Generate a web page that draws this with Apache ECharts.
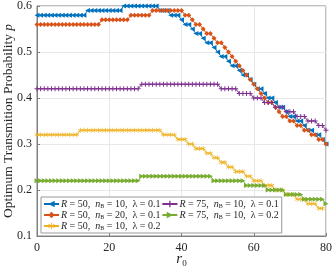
<!DOCTYPE html>
<html><head><meta charset="utf-8">
<script src="https://cdn.jsdelivr.net/npm/echarts@6/dist/echarts.min.js"></script>
<style>html,body{margin:0;padding:0;background:#fff}#c{width:332px;height:271px}</style>
</head><body><div id="c"></div>
<script>
const r0 = [0,1,2,3,4,5,6,7,8,9,10,11,12,13,14,15,16,17,18,19,20,21,22,23,24,25,26,27,28,29,30,31,32,33,34,35,36,37,38,39,40,41,42,43,44,45,46,47,48,49,50,51,52,53,54,55,56,57,58,59,60,61,62,63,64,65,66,67,68,69,70,71,72,73,74,75,76,77,78,79,80];
const xTicks = [0,20,40,60,80];
const yTicks = [0.1,0.2,0.3,0.4,0.5,0.6];
const pBlue = [0.58,0.58,0.58,0.58,0.58,0.58,0.58,0.58,0.58,0.58,0.58,0.58,0.58,0.58,
 0.59,0.59,0.59,0.59,0.59,0.59,0.59,0.59,0.59,0.59,
 0.60,0.60,0.60,0.60,0.60,0.60,0.60,0.60,0.60,0.60,
 0.59,0.59,0.59,0.58,0.58,0.58,
 0.57,0.56,0.56,0.55,0.54,0.54,0.53,0.52,0.52,0.51,0.50,0.49,0.49,0.48,0.47,0.47,0.46,0.45,0.45,0.44,
 0.43,0.42,0.42,0.41,0.40,0.40,0.39,0.38,0.38,0.37,0.36,0.36,0.35,0.35,0.34,0.33,0.33,0.32,0.32,0.31,0.30];
const pOrange = [0.56,0.56,0.56,0.56,0.56,0.56,0.56,0.56,0.56,0.56,0.56,0.56,0.56,0.56,0.56,0.56,0.56,0.56,
 0.57,0.57,0.57,0.57,0.57,0.57,0.57,0.57,
 0.58,0.58,0.58,0.58,0.58,0.58,
 0.59,0.59,0.59,0.59,0.59,0.59,0.59,0.59,0.59,
 0.58,0.58,0.57,0.56,0.56,0.55,0.54,0.54,0.53,0.52,0.52,0.51,0.50,0.49,0.48,0.47,0.46,0.45,0.44,0.43,
 0.42,0.41,0.40,0.39,0.39,0.38,0.37,0.36,0.36,0.35,0.35,0.34,0.34,0.33,0.33,0.32,0.32,0.31,0.31,0.30];
const pYellow = [0.32,0.32,0.32,0.32,0.32,0.32,0.32,0.32,0.32,0.32,0.32,0.32,
 0.33,0.33,0.33,0.33,0.33,0.33,0.33,0.33,0.33,0.33,0.33,0.33,0.33,0.33,0.33,0.33,0.33,0.33,0.33,0.33,0.33,0.33,0.33,
 0.32,0.32,0.32,0.32,
 0.31,0.31,0.31,0.30,0.30,0.29,0.29,0.29,0.28,0.28,0.27,0.27,0.26,0.26,0.25,0.25,0.24,0.24,0.24,0.23,
 0.23,0.22,0.22,0.22,0.21,0.21,0.21,0.20,0.20,0.20,0.19,0.19,0.19,0.18,0.18,0.18,0.17,0.17,0.17,0.16,0.16];
const pPurple = [0.42,0.42,0.42,0.42,0.42,0.42,0.42,0.42,0.42,0.42,0.42,0.42,0.42,0.42,0.42,0.42,0.42,0.42,0.42,0.42,0.42,0.42,0.42,0.42,0.42,0.42,0.42,0.42,0.42,
 0.43,0.43,0.43,0.43,0.43,0.43,0.43,0.43,0.43,0.43,0.43,0.43,0.43,0.43,0.43,0.43,0.43,0.43,0.43,0.43,0.43,0.43,
 0.42,0.42,0.42,0.42,0.42,0.41,0.41,0.41,0.41,0.40,0.40,0.40,0.39,0.39,0.39,0.38,0.38,0.38,
 0.37,0.37,0.37,0.36,0.36,0.36,0.35,0.35,0.35,0.34,0.34,0.33];
const pGreen = [0.22,0.22,0.22,0.22,0.22,0.22,0.22,0.22,0.22,0.22,0.22,0.22,0.22,0.22,0.22,0.22,0.22,0.22,0.22,0.22,0.22,0.22,0.22,0.22,0.22,0.22,0.22,0.22,0.22,
 0.23,0.23,0.23,0.23,0.23,0.23,0.23,0.23,0.23,0.23,0.23,0.23,0.23,0.23,0.23,0.23,0.23,0.23,0.23,0.23,
 0.22,0.22,0.22,0.22,0.22,0.22,0.22,0.22,0.22,
 0.21,0.21,0.21,0.21,0.21,0.21,0.20,0.20,0.20,0.20,0.20,
 0.19,0.19,0.19,0.19,0.19,0.18,0.18,0.18,0.18,0.18,0.18,0.17];
const legendLabels = {
  s1: '{i|R} = 50,  {i|n}{s|B} = 10,  {g|λ} = 0.1',
  s2: '{i|R} = 50,  {i|n}{s|B} = 20,  {g|λ} = 0.1',
  s3: '{i|R} = 50,  {i|n}{s|B} = 10,  {g|λ} = 0.2',
  s4: '{i|R} = 75,  {i|n}{s|B} = 10,  {g|λ} = 0.1',
  s5: '{i|R} = 75,  {i|n}{s|B} = 10,  {g|λ} = 0.2'
};
const SERIF = 'Liberation Serif';
const plus = 'path://M4,0 H6 V4 H10 V6 H6 V10 H4 V6 H0 V4 H4 Z';
const star = 'path://M4.4,0 H5.6 V3.9 L8.9,1.9 L9.5,2.9 L6.2,5 L9.5,7.1 L8.9,8.1 L5.6,6.1 V10 H4.4 V6.1 L1.1,8.1 L0.5,7.1 L3.8,5 L0.5,2.9 L1.1,1.9 L4.4,3.9 Z';
function mk(name, vals, color, symbol, size, rot){
  return {name, type:'line', data: r0.map((x,i)=>[x, vals[i]]), color,
    lineStyle:{width:1, color}, itemStyle:{color},
    symbol, symbolSize:size, symbolRotate:rot||0, showSymbol:true, animation:false};
}
const chart = echarts.init(document.getElementById('c'), null, {renderer:'canvas'});
chart.setOption({
  animation:false,
  textStyle:{fontFamily:SERIF},
  grid:{left:37, right:6, top:6, bottom:35, containLabel:false, outerBoundsMode:'none',
    show:true, borderColor:'#808080', borderWidth:1, backgroundColor:'transparent'},
  xAxis:{type:'value', min:0, max:80, interval:20,
    name:'{i|r}{s|0}', nameLocation:'middle', nameGap:15, nameMoveOverlap:false,
    nameTextStyle:{rich:{i:{fontFamily:SERIF, fontStyle:'italic', fontSize:15, color:'#262626'}, s:{fontFamily:SERIF, fontSize:9, color:'#262626', padding:[8,0,0,0]}}},
    axisLine:{show:true, lineStyle:{color:'#808080'}},
    axisTick:{show:true, inside:true, length:3, lineStyle:{color:'#808080'}},
    axisLabel:{color:'#262626', fontSize:12, fontFamily:SERIF, margin:6},
    splitLine:{show:true, lineStyle:{color:'#e8e8e8'}}},
  yAxis:{type:'value', min:0.1, max:0.6, interval:0.1,
    name:'Optimum Transmition Probability {i|p}', nameLocation:'middle', nameGap:22, nameMoveOverlap:false,
    nameTextStyle:{fontFamily:SERIF, fontSize:13.5, color:'#262626', rich:{i:{fontFamily:SERIF, fontStyle:'italic', fontSize:13.5, color:'#262626'}}},
    axisLine:{show:true, lineStyle:{color:'#808080'}},
    axisTick:{show:true, inside:true, length:3, lineStyle:{color:'#808080'}},
    axisLabel:{color:'#262626', fontSize:12, fontFamily:SERIF, margin:5, formatter:v=>v.toFixed(1)},
    splitLine:{show:true, lineStyle:{color:'#e8e8e8'}}},
  legend:{orient:'vertical', left:41, top:197, height:34, padding:[2,3,2,2], itemGap:1,
    itemWidth:15, itemHeight:8, borderColor:'#999', borderWidth:1, backgroundColor:'#fff',
    formatter:n=>legendLabels[n],
    textStyle:{fontFamily:SERIF, fontSize:10, color:'#262626', lineHeight:10, padding:[0,0,0,-3],
      rich:{i:{fontFamily:SERIF, fontStyle:'italic', fontSize:10, color:'#262626'},
            s:{fontFamily:SERIF, fontSize:6, color:'#262626', padding:[4,0,0,0]},
            g:{fontFamily:SERIF, fontSize:10, color:'#262626'}}},
    data:['s1','s2','s3','s4','s5']},
  series:[
    mk('s1', pBlue, '#0072BD', 'triangle', 5, 90),
    mk('s2', pOrange, '#D95319', 'diamond', 5, 0),
    mk('s3', pYellow, '#EDB120', star, 5, 0),
    mk('s4', pPurple, '#7E2F8E', plus, 5, 0),
    mk('s5', pGreen, '#77AC30', 'triangle', 5, -90)
  ]
});
</script>
</body></html>
